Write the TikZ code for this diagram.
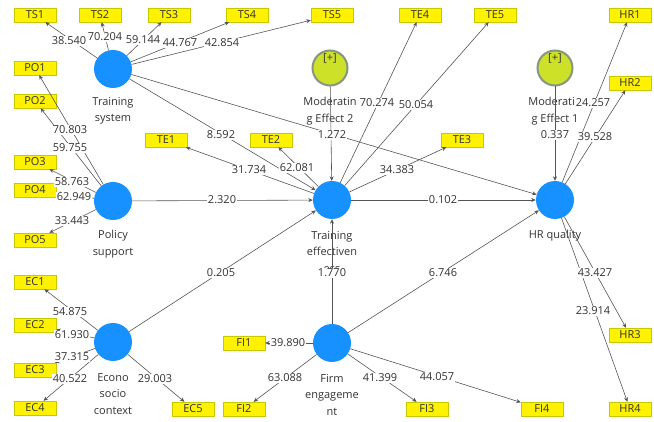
\documentclass[tikz,border=0pt]{standalone}
\usepackage{fontspec}
\setmainfont{Open Sans}
\usetikzlibrary{arrows.meta,calc}
\definecolor{plsblue}{RGB}{22,145,255}
\definecolor{modfill}{RGB}{205,225,40}
\definecolor{modedge}{RGB}{135,150,130}
\definecolor{boxedge}{RGB}{200,200,0}
\definecolor{linegray}{RGB}{85,85,85}
\definecolor{txtgray}{RGB}{50,50,50}
\tikzset{
  lat/.style={circle, fill=plsblue, minimum size=38pt, inner sep=0pt},
  modc/.style={circle, fill=modfill, draw=modedge, line width=2pt, minimum size=35pt, inner sep=0pt},
  ind/.style={rectangle, fill=yellow, draw=boxedge, line width=0.4pt, minimum width=42pt, minimum height=14pt, inner sep=0pt, text=txtgray},
  nm/.style={align=center, text=txtgray, inner sep=0pt},
  lbl/.style={fill=white, inner sep=0.5pt, text=txtgray},
  arr/.style={draw=linegray, line width=0.6pt, -{Stealth[length=4.5pt,width=4pt]}},
}
\newcommand\elab[3]{\node[lbl] (#1) at (#2) {#3};}
\begin{document}
\begin{tikzpicture}[x=1pt,y=-1pt,font=\fontsize{11}{16.5}\selectfont]
\useasboundingbox (0,0) rectangle (654,422);
% latent variables
\node[lat] (TS) at (113,69) {};
\node[lat] (PS) at (113,201) {};
\node[lat] (ESC) at (113,342) {};
\node[lat] (TE) at (332,200) {};
\node[lat] (FE) at (332,343) {};
\node[lat] (HR) at (555,200) {};
\node[modc] (ME2) at (330,68) {};
\node[modc] (ME1) at (555,68) {};
\node[nm] (p2) at (330,58) {[+]};
\node[nm] (p1) at (555,58) {[+]};
% indicators
\node[ind] (TS1) at (35,15) {TS1};
\node[ind] (TS2) at (100,15) {TS2};
\node[ind] (TS3) at (169,15) {TS3};
\node[ind] (TS4) at (247,15) {TS4};
\node[ind] (TS5) at (332,15) {TS5};
\node[ind] (TE4) at (420,15) {TE4};
\node[ind] (TE5) at (495,15) {TE5};
\node[ind] (HR1) at (630,15) {HR1};
\node[ind] (HR2) at (630,83) {HR2};
\node[ind] (PO1) at (35,68) {PO1};
\node[ind] (PO2) at (35,101) {PO2};
\node[ind] (PO3) at (35,162) {PO3};
\node[ind] (PO4) at (35,190) {PO4};
\node[ind] (PO5) at (35,240) {PO5};
\node[ind] (TE1) at (166,140) {TE1};
\node[ind] (TE2) at (271,140) {TE2};
\node[ind] (TE3) at (462,140) {TE3};
\node[ind] (EC1) at (35,282) {EC1};
\node[ind] (EC2) at (35,325) {EC2};
\node[ind] (EC3) at (35,370) {EC3};
\node[ind] (EC4) at (35,408) {EC4};
\node[ind] (EC5) at (193,409) {EC5};
\node[ind] (FI1) at (244,343) {FI1};
\node[ind] (FI2) at (244,409) {FI2};
\node[ind] (FI3) at (427,409) {FI3};
\node[ind] (FI4) at (542,409) {FI4};
\node[ind] (HR3) at (630,335) {HR3};
\node[ind] (HR4) at (630,409) {HR4};
% names
\node[nm] (nTS) at (113,111) {Training\\system};
\node[nm] (nPS) at (113,244) {Policy\\support};
\node[nm] (nESC) at (113,394) {Econo\\socio\\context};
\node[nm] (nTE) at (332,252) {Training\\effectiven\\ess};
\node[nm] (nFE) at (332,395) {Firm\\engageme\\nt};
\node[nm] (nHR) at (555,236) {HR quality};
\node[nm] (nME2) at (330,111) {Moderatin\\g Effect 2};
\node[nm] (nME1) at (555,111) {Moderatin\\g Effect 1};
% outer model
\foreach \i in {TS1,TS2,TS3,TS4,TS5} \draw[arr] (TS) -- (\i);
\foreach \i in {PO1,PO2,PO3,PO4,PO5} \draw[arr] (PS) -- (\i);
\foreach \i in {EC1,EC2,EC3,EC4,EC5} \draw[arr] (ESC) -- (\i);
\foreach \i in {TE1,TE2,TE3,TE4,TE5} \draw[arr] (TE) -- (\i);
\foreach \i in {FI1,FI2,FI3,FI4} \draw[arr] (FE) -- (\i);
\foreach \i in {HR1,HR2,HR3,HR4} \draw[arr] (HR) -- (\i);
% inner model
\draw[arr] (TS) -- (TE);
\draw[arr] (TS) -- (HR);
\draw[arr] (PS) -- (TE);
\draw[arr] (ESC) -- (TE);
\draw[arr] (FE) -- (TE);
\draw[arr] (TE) -- (HR);
\draw[arr] (FE) -- (HR);
\draw[arr] (ME2) -- (TE);
\draw[arr] (ME1) -- (HR);
% labels
\elab{l1}{69,41}{38.540}
\elab{l2}{105,37}{70.204}
\elab{l3}{143,40}{59.144}
\elab{l4}{180,43}{44.767}
\elab{l5}{222,43}{42.854}
\elab{l6}{70,130}{70.803}
\elab{l7}{70,148}{59.755}
\elab{l8}{72,182}{58.763}
\elab{l9}{74,197}{62.949}
\elab{l10}{72,221}{33.443}
\elab{l11}{70,312}{54.875}
\elab{l12}{72,335}{61.930}
\elab{l13}{72,357}{37.315}
\elab{l14}{70,379}{40.522}
\elab{l15}{155,379}{29.003}
\elab{l16}{249,170}{31.734}
\elab{l17}{297,168}{62.081}
\elab{l18}{397,170}{34.383}
\elab{l19}{377,103}{70.274}
\elab{l20}{416,105}{50.054}
\elab{l21}{288,343}{39.890}
\elab{l22}{285,378}{63.088}
\elab{l23}{380,378}{41.399}
\elab{l24}{437,377}{44.057}
\elab{l25}{593,103}{24.257}
\elab{l26}{595,137}{39.528}
\elab{l27}{595,273}{43.427}
\elab{l28}{593,311}{23.914}
\elab{l29}{221,135}{8.592}
\elab{l30}{332,135}{1.272}
\elab{l31}{222,200}{2.320}
\elab{l32}{221,273}{0.205}
\elab{l33}{332,273}{1.770}
\elab{l34}{443,200}{0.102}
\elab{l35}{443,273}{6.746}
\elab{l36}{555,135}{0.337}
\end{tikzpicture}
\end{document}
